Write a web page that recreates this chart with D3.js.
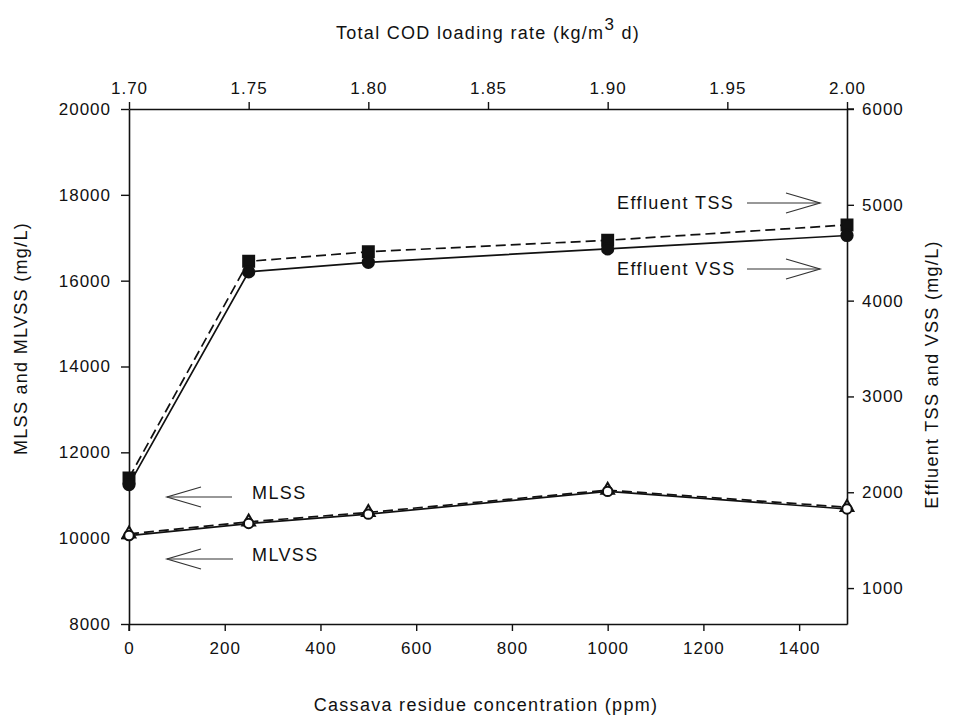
<!DOCTYPE html>
<html>
<head>
<meta charset="utf-8">
<script src="https://cdn.jsdelivr.net/npm/d3@7"></script>
<style>
  body { margin: 0; background: #fff; }
  text { font-family: "Liberation Sans", Arial, sans-serif; fill: #111; }
</style>
</head>
<body>
<div id="chart"></div>
<script>
// ===== Data =====
const concentration = [0, 250, 500, 1000, 1500];          // ppm (bottom axis)
const codTicks = [1.70, 1.75, 1.80, 1.85, 1.90, 1.95, 2.00]; // top axis
const bottomTicks = [0, 200, 400, 600, 800, 1000, 1200, 1400];
const leftTicks = [8000, 10000, 12000, 14000, 16000, 18000, 20000];
const rightTicks = [1000, 2000, 3000, 4000, 5000, 6000];

// left axis (mg/L)
const mlss  = [10100, 10380, 10600, 11120, 10720];
const mlvss = [10060, 10340, 10560, 11090, 10680];
// right axis (mg/L)
const effTSS = [2150, 4410, 4510, 4630, 4790];
const effVSS = [2080, 4300, 4400, 4540, 4680];

// ===== Sizing =====
const width = 962, height = 716;
const plotL = 129, plotR = 847, plotT = 109, plotB = 624;

const svg = d3.select("#chart").append("svg")
  .attr("width", width)
  .attr("height", height);

const x = d3.scaleLinear().domain([0, 1500]).range([plotL, plotR]);
const xTop = d3.scaleLinear().domain([1.70, 2.00]).range([plotL, plotR]);
const yL = d3.scaleLinear().domain([8000, 20000]).range([plotB, plotT]);
const yR = d3.scaleLinear().domain([625, 6000]).range([plotB, plotT]);

function styleAxis(g) {
  g.select(".domain").attr("stroke", "#111").attr("stroke-width", 1.6);
  g.selectAll(".tick line").attr("stroke", "#111").attr("stroke-width", 1.4);
  g.selectAll(".tick text")
    .attr("font-size", 17)
    .attr("letter-spacing", 1)
    .attr("fill", "#111");
}

svg.append("g")
  .attr("transform", `translate(0,${plotB})`)
  .call(d3.axisBottom(x).tickValues(bottomTicks).tickFormat(d3.format("d")).tickSize(7).tickPadding(11).tickSizeOuter(0))
  .call(styleAxis);

svg.append("g")
  .attr("transform", `translate(0,${plotT})`)
  .call(d3.axisTop(xTop).tickValues(codTicks).tickFormat(d3.format(".2f")).tickSize(7).tickPadding(8).tickSizeOuter(0))
  .call(styleAxis);

svg.append("g")
  .attr("transform", `translate(${plotL},0)`)
  .call(d3.axisLeft(yL).tickValues(leftTicks).tickFormat(d3.format("d")).tickSize(8).tickPadding(10).tickSizeOuter(0))
  .call(styleAxis);

svg.append("g")
  .attr("transform", `translate(${plotR},0)`)
  .call(d3.axisRight(yR).tickValues(rightTicks).tickFormat(d3.format("d")).tickSize(7).tickPadding(8).tickSizeOuter(0))
  .call(styleAxis);

// corner ticks (0 on bottom crosses the frame)
svg.append("line")
  .attr("x1", plotL).attr("x2", plotL)
  .attr("y1", plotB).attr("y2", plotB + 7)
  .attr("stroke", "#111").attr("stroke-width", 1.4);
svg.append("line")
  .attr("x1", plotR).attr("x2", plotR + 7)
  .attr("y1", plotT).attr("y2", plotT)
  .attr("stroke", "#111").attr("stroke-width", 1.4);

// ===== Axis titles =====
const titleFont = 18, titleSpacing = 1.3;

const title = svg.append("text")
  .attr("x", (plotL + plotR) / 2)
  .attr("y", 39)
  .attr("text-anchor", "middle")
  .attr("font-size", titleFont)
  .attr("letter-spacing", titleSpacing);
title.append("tspan").text("Total COD loading rate (kg/m");
title.append("tspan").attr("dy", -9).attr("font-size", 17).text("3");
title.append("tspan").attr("dy", 9).text(" d)");

svg.append("text")
  .attr("x", (plotL + plotR) / 2 - 2)
  .attr("y", 711)
  .attr("text-anchor", "middle")
  .attr("font-size", titleFont)
  .attr("letter-spacing", titleSpacing)
  .text("Cassava residue concentration (ppm)");

svg.append("text")
  .attr("transform", `translate(27,${(plotT + plotB) / 2 - 28}) rotate(-90)`)
  .attr("text-anchor", "middle")
  .attr("font-size", titleFont)
  .attr("letter-spacing", titleSpacing)
  .text("MLSS and MLVSS (mg/L)");

svg.append("text")
  .attr("transform", `translate(938,${(plotT + plotB) / 2 + 8}) rotate(-90)`)
  .attr("text-anchor", "middle")
  .attr("font-size", titleFont)
  .attr("letter-spacing", titleSpacing)
  .text("Effluent TSS and VSS (mg/L)");

// ===== Series =====
const series = [
  { values: effTSS, y: yR, dash: "10,5", symbol: d3.symbolSquare, size: 120, fill: "#111" },
  { values: effVSS, y: yR, dash: null, symbol: d3.symbolCircle, size: 100, fill: "#111" },
  { values: mlss, y: yL, dash: "10,5", symbol: d3.symbolTriangle, size: 70, fill: "#fff" },
  { values: mlvss, y: yL, dash: null, symbol: d3.symbolCircle, size: 70, fill: "#fff" }
];

series.forEach(s => {
  const pts = concentration.map((c, i) => ({ c, v: s.values[i] }));
  const line = d3.line().x(d => x(d.c)).y(d => s.y(d.v));
  svg.append("path")
    .datum(pts)
    .attr("d", line)
    .attr("fill", "none")
    .attr("stroke", "#111")
    .attr("stroke-width", 1.7)
    .attr("stroke-dasharray", s.dash);
});

series.forEach(s => {
  svg.append("g").selectAll("path")
    .data(concentration.map((c, i) => ({ c, v: s.values[i] })))
    .join("path")
    .attr("transform", d => `translate(${x(d.c)},${s.y(d.v)})`)
    .attr("d", d3.symbol().type(s.symbol).size(s.size))
    .attr("fill", s.fill)
    .attr("stroke", "#111")
    .attr("stroke-width", 2);
});

// ===== Annotations with open arrows =====
const notes = [
  { label: "Effluent TSS", tx: 617, ty: 203, ax1: 747, ax2: 820, dir: 1 },
  { label: "Effluent VSS", tx: 617, ty: 269, ax1: 747, ax2: 820, dir: 1 },
  { label: "MLSS", tx: 252, ty: 493, ax1: 232, ax2: 167, dir: -1 },
  { label: "MLVSS", tx: 252, ty: 555, ax1: 233, ax2: 167, dir: -1 }
];

notes.forEach(n => {
  svg.append("text")
    .attr("x", n.tx)
    .attr("y", n.ty)
    .attr("dy", "0.35em")
    .attr("font-size", 18)
    .attr("letter-spacing", 1.4)
    .text(n.label);
  const ay = n.dir > 0 ? n.ty : n.ty + 4;
  svg.append("line")
    .attr("x1", n.ax1).attr("x2", n.ax2)
    .attr("y1", ay).attr("y2", ay)
    .attr("stroke", "#333").attr("stroke-width", 1.2);
  svg.append("path")
    .attr("d", `M${n.ax2 - n.dir * 34},${ay - 10} L${n.ax2},${ay} L${n.ax2 - n.dir * 34},${ay + 10}`)
    .attr("fill", "none")
    .attr("stroke", "#333").attr("stroke-width", 1.2);
});
</script>
</body>
</html>
